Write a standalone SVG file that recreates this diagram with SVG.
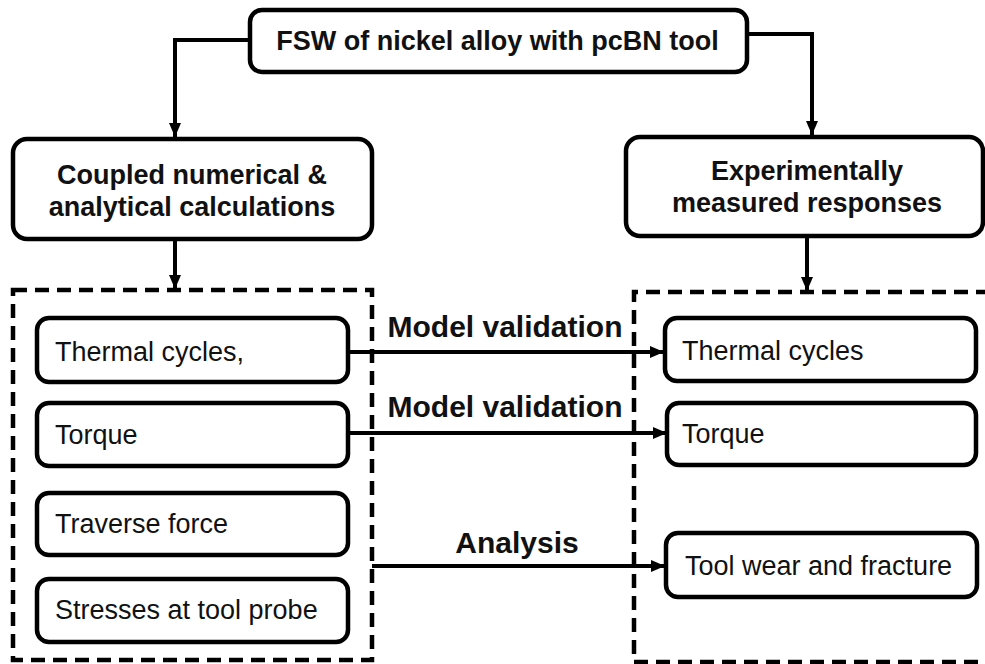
<svg xmlns="http://www.w3.org/2000/svg" width="985" height="664" viewBox="0 0 985 664">
  <defs>
    <marker id="arr" viewBox="0 0 14 12" markerWidth="14" markerHeight="12" refX="14" refY="6" orient="auto" markerUnits="userSpaceOnUse">
      <path d="M0,0 L14,6 L0,12 z" fill="#000"/>
    </marker>
  </defs>
  <style>
    .box { fill: #fff; stroke: #000; stroke-width: 4.5; }
    .dash { fill: none; stroke: #000; stroke-width: 4.5; stroke-dasharray: 14 8; }
    .conn { fill: none; stroke: #000; stroke-width: 4; }
    .head { font-family: "Liberation Sans", Arial, sans-serif; font-weight: bold; font-size: 27px; fill: #111; text-anchor: middle; }
    .lbl { font-family: "Liberation Sans", Arial, sans-serif; font-weight: bold; font-size: 30px; fill: #111; text-anchor: middle; }
    .item { font-family: "Liberation Sans", Arial, sans-serif; font-size: 27px; fill: #111; }
  </style>
  <rect width="985" height="664" fill="#fff"/>

  <g id="containers">
    <rect class="dash" x="13" y="290" width="359" height="370"/>
    <path class="dash" d="M990,292 H634 V662 H990"/>
  </g>

  <g id="connectors">
    <path class="conn" d="M250,40 H175 V137" marker-end="url(#arr)"/>
    <path class="conn" d="M747,34 H812 V135" marker-end="url(#arr)"/>
    <path class="conn" d="M175,239 V289" marker-end="url(#arr)"/>
    <path class="conn" d="M807,236 V291" marker-end="url(#arr)"/>
    <path class="conn" d="M348,352 H664" marker-end="url(#arr)"/>
    <path class="conn" d="M348,433 H667" marker-end="url(#arr)"/>
    <path class="conn" d="M372,566 H665" marker-end="url(#arr)"/>
    <text class="lbl" x="505" y="337">Model validation</text>
    <text class="lbl" x="505" y="417">Model validation</text>
    <text class="lbl" x="517" y="553">Analysis</text>
  </g>

  <g id="n-top">
    <rect class="box" x="250" y="10" width="497" height="62" rx="12"/>
    <text class="head" x="497.5" y="50">FSW of nickel alloy with pcBN tool</text>
  </g>
  <g id="n-coupled">
    <rect class="box" x="13" y="139" width="359" height="100" rx="14"/>
    <text class="head" x="192" y="184">Coupled numerical &amp;</text>
    <text class="head" x="192" y="216">analytical calculations</text>
  </g>
  <g id="n-exp">
    <rect class="box" x="626" y="137" width="357" height="99" rx="14"/>
    <text class="head" x="807" y="180">Experimentally</text>
    <text class="head" x="807" y="212">measured responses</text>
  </g>

  <g id="n-l-thermal">
    <rect class="box" x="37" y="318" width="311" height="64" rx="12"/>
    <text class="item" x="55" y="361">Thermal cycles,</text>
  </g>
  <g id="n-l-torque">
    <rect class="box" x="37" y="403" width="311" height="63" rx="12"/>
    <text class="item" x="55" y="444">Torque</text>
  </g>
  <g id="n-l-traverse">
    <rect class="box" x="37" y="493" width="311" height="62" rx="12"/>
    <text class="item" x="55" y="533">Traverse force</text>
  </g>
  <g id="n-l-stresses">
    <rect class="box" x="37" y="579" width="311" height="63" rx="12"/>
    <text class="item" x="55" y="619">Stresses at tool probe</text>
  </g>

  <g id="n-r-thermal">
    <rect class="box" x="665" y="318" width="311" height="63" rx="12"/>
    <text class="item" x="682" y="360">Thermal cycles</text>
  </g>
  <g id="n-r-torque">
    <rect class="box" x="667" y="403" width="309" height="62" rx="12"/>
    <text class="item" x="682" y="443">Torque</text>
  </g>
  <g id="n-r-wear">
    <rect class="box" x="666" y="533" width="311" height="64" rx="12"/>
    <text class="item" x="685" y="575">Tool wear and fracture</text>
  </g>
</svg>
